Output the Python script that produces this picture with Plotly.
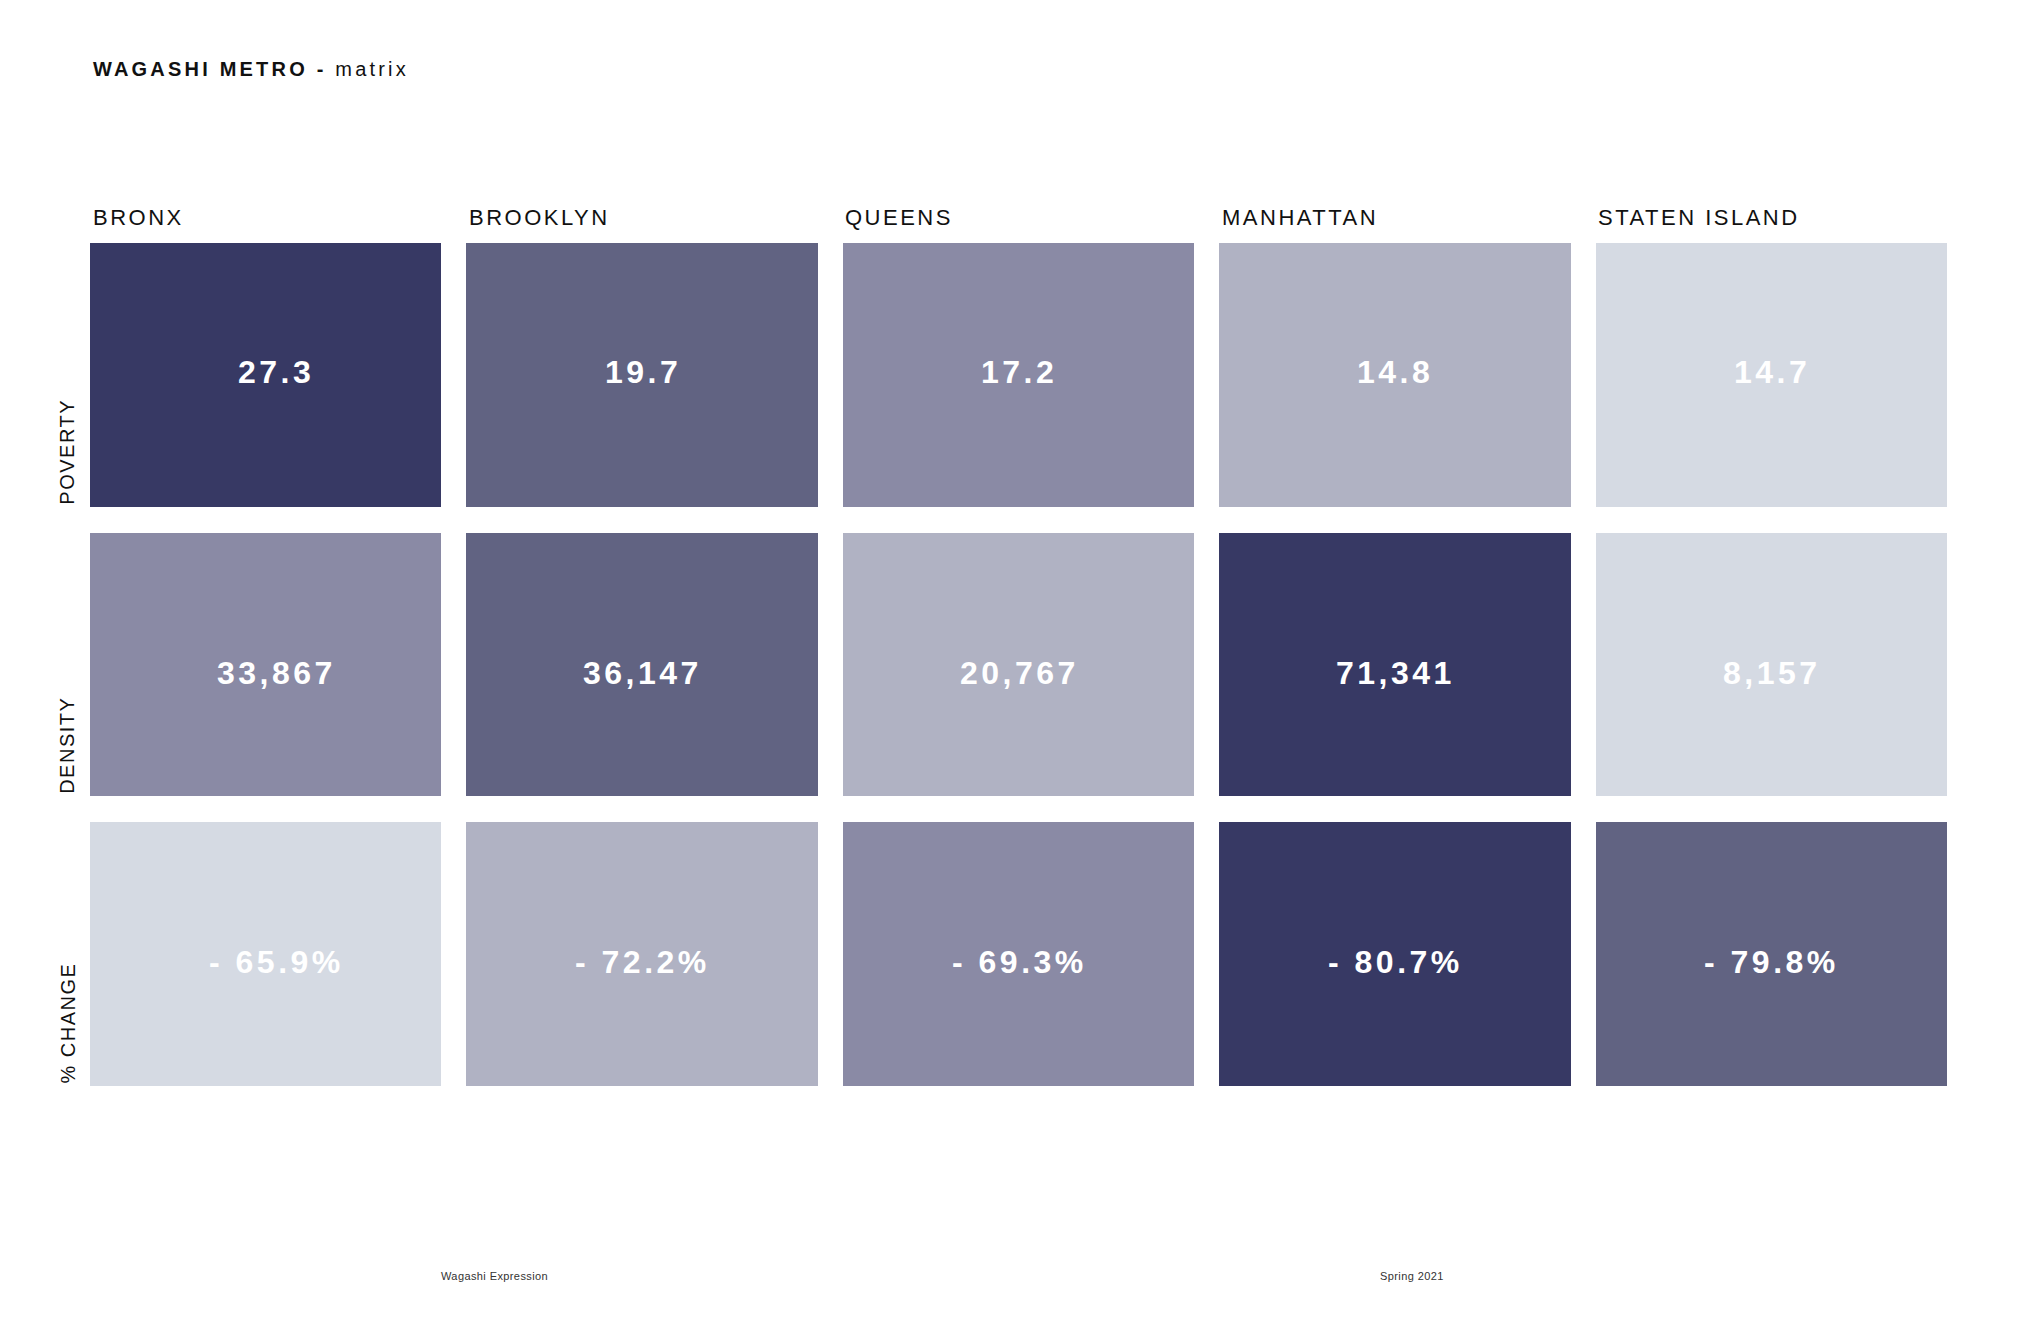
import plotly.graph_objects as go

# ---------------- data ----------------
boroughs = ["BRONX", "BROOKLYN", "QUEENS", "MANHATTAN", "STATEN ISLAND"]
metrics = ["POVERTY", "DENSITY", "% CHANGE"]

poverty = [27.3, 19.7, 17.2, 14.8, 14.7]
density = [33867, 36147, 20767, 71341, 8157]
pct_change = [-65.9, -72.2, -69.3, -80.7, -79.8]

# shade tier of each cell (1 = darkest ... 5 = lightest)
poverty_tier = [1, 2, 3, 4, 5]
density_tier = [3, 2, 4, 1, 5]
change_tier = [5, 4, 3, 1, 2]

# ---------------- styling ----------------
FONT = "Liberation Sans, Arial, Helvetica, sans-serif"
shades = ["#373964", "#616382", "#8a8aa5", "#b0b2c3", "#d5dae3"]
colorscale = [[i / (len(shades) - 1), c] for i, c in enumerate(shades)]


def spaced(txt, px):
    return f'<span style="letter-spacing:{px}px">{txt}</span>'


labels = [
    [f"{v:.1f}" for v in poverty],
    [f"{v:,}" for v in density],
    [f"- {abs(v):.1f}%" for v in pct_change],
]
z = [poverty_tier, density_tier, change_tier]

fig = go.Figure(
    go.Heatmap(
        x=list(range(len(boroughs))),
        y=list(range(len(metrics))),
        z=z,
        zmin=1,
        zmax=5,
        colorscale=colorscale,
        showscale=False,
        xgap=25,
        ygap=26,
        hoverinfo="skip",
    )
)

ann = []
row_shift = [3, -8, -8]
col_shift = [10, 0, 0, 0, 0]
for r in range(len(metrics)):
    for c in range(len(boroughs)):
        ann.append(dict(
            x=c, y=r, xref="x", yref="y", showarrow=False,
            text=f"<b>{spaced(labels[r][c], 3.5)}</b>",
            font=dict(family=FONT, size=32, color="#ffffff"),
            xanchor="center", yanchor="middle",
            xshift=col_shift[c], yshift=row_shift[r],
        ))

# column headers
for c, name in enumerate(boroughs):
    ann.append(dict(
        x=c - 0.5, y=1, xref="x", yref="paper", showarrow=False,
        text=spaced(name, 2.5),
        font=dict(family=FONT, size=22, color="#111111"),
        xanchor="left", yanchor="middle", xshift=12.5, yshift=13,
    ))

# row labels (rotated, bottom-aligned with each row)
for r, name in enumerate(metrics):
    ann.append(dict(
        x=0, y=r + 0.5, xref="paper", yref="y", showarrow=False,
        text=spaced(name, 1.5), textangle=-90,
        font=dict(family=FONT, size=20, color="#111111"),
        xanchor="center", yanchor="bottom", xshift=-11, yshift=13,
    ))

# title
ann.append(dict(
    x=0, y=1, xref="paper", yref="paper", showarrow=False,
    text=spaced("<b>WAGASHI METRO -</b> matrix", 3.2),
    font=dict(family=FONT, size=20, color="#111111"),
    xanchor="left", yanchor="middle", xshift=13, yshift=161,
))

# footer
ann.append(dict(
    x=0, y=0, xref="paper", yref="paper", showarrow=False,
    text=spaced("Wagashi Expression", 0.4),
    font=dict(family=FONT, size=11, color="#333333"),
    xanchor="center", yanchor="middle", xshift=416, yshift=-177,
))
ann.append(dict(
    x=0, y=0, xref="paper", yref="paper", showarrow=False,
    text=spaced("Spring 2021", 0.4),
    font=dict(family=FONT, size=11, color="#333333"),
    xanchor="center", yanchor="middle", xshift=1334, yshift=-177,
))

fig.update_layout(
    width=2040,
    height=1320,
    margin=dict(l=70, r=88, t=222, b=229),
    paper_bgcolor="#ffffff",
    plot_bgcolor="#ffffff",
    annotations=ann,
    xaxis=dict(range=[-0.5, 4.5], visible=False, fixedrange=True),
    yaxis=dict(range=[2.5, -0.5], visible=False, fixedrange=True),
    showlegend=False,
)

fig.write_html("out.html", config={"displayModeBar": False})
